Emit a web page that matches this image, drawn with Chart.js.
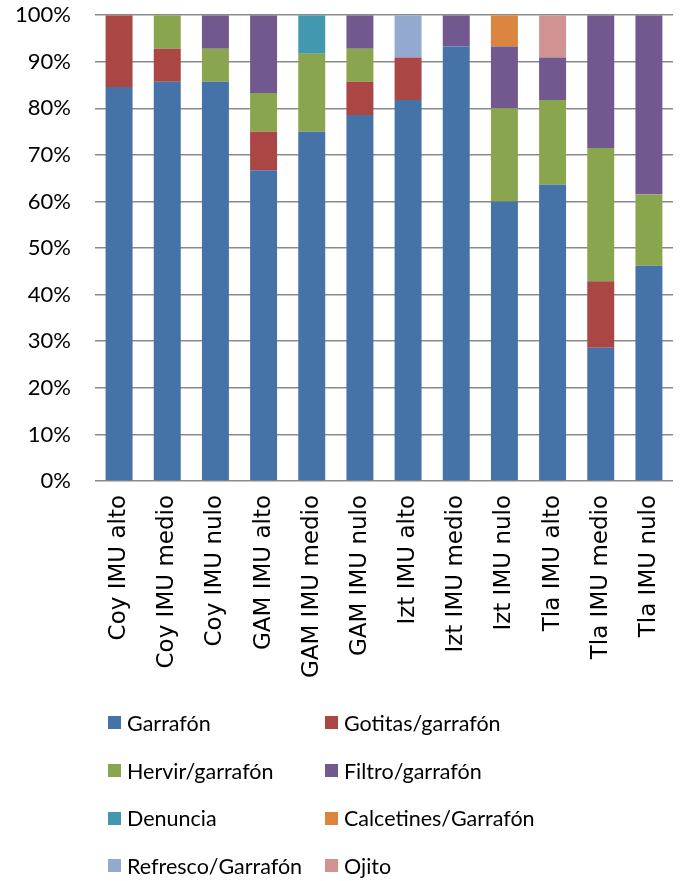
<!DOCTYPE html>
<html>
<head>
<meta charset="utf-8">
<script src="https://cdn.jsdelivr.net/npm/chart.js@4.4.1/dist/chart.umd.min.js"></script>
<style>
  body { margin: 0; background: #fff; }
  #wrap { position: relative; width: 683px; height: 881px; overflow: hidden; }
  #chartBox { position: absolute; left: 0; top: -22px; width: 683px; height: 722px; }
  #leyenda { position: absolute; left: 108px; top: 699px; display: grid; grid-template-columns: 217px 300px; row-gap: 0; }
  .item { display: flex; align-items: center; height: 47.7px; font-family: Lato, sans-serif; font-size: 21.5px; color: #000; }
  .caja { width: 13px; height: 13px; margin-right: 6px; flex: none; }
</style>
</head>
<body>
<div id="wrap">
  <div id="chartBox"><canvas id="grafico"></canvas></div>
  <div id="leyenda"></div>
</div>
<script>
// categorias (eje x)
const categorias = [
  "Coy IMU alto", "Coy IMU medio", "Coy IMU nulo",
  "GAM IMU alto", "GAM IMU medio", "GAM IMU nulo",
  "Izt IMU alto", "Izt IMU medio", "Izt IMU nulo",
  "Tla IMU alto", "Tla IMU medio", "Tla IMU nulo"
];

// porcentajes por serie
const garrafon   = [84.6, 85.7, 85.7, 66.7, 75.0, 78.6, 81.8, 93.3, 60.0, 63.6, 28.6, 46.2];
const gotitas    = [15.4,  7.1,  0,    8.3,  0,    7.1,  9.1,  0,    0,    0,   14.3,  0];
const hervir     = [0,     7.2,  7.1,  8.3, 16.7,  7.1,  0,    0,   20.0, 18.2, 28.6, 15.3];
const filtro     = [0,     0,    7.2, 16.7,  0,    7.2,  0,    6.7, 13.3,  9.1, 28.5, 38.5];
const denuncia   = [0,     0,    0,    0,    8.3,  0,    0,    0,    0,    0,    0,    0];
const calcetines = [0,     0,    0,    0,    0,    0,    0,    0,    6.7,  0,    0,    0];
const refresco   = [0,     0,    0,    0,    0,    0,    9.1,  0,    0,    0,    0,    0];
const ojito      = [0,     0,    0,    0,    0,    0,    0,    0,    0,    9.1,  0,    0];

const ticksY = [0, 10, 20, 30, 40, 50, 60, 70, 80, 90, 100];

const series = [
  { label: "Garrafón", data: garrafon, color: "#4572A7" },
  { label: "Gotitas/garrafón", data: gotitas, color: "#AA4643" },
  { label: "Hervir/garrafón", data: hervir, color: "#89A54E" },
  { label: "Filtro/garrafón", data: filtro, color: "#71588F" },
  { label: "Denuncia", data: denuncia, color: "#4198AF" },
  { label: "Calcetines/Garrafón", data: calcetines, color: "#DB843D" },
  { label: "Refresco/Garrafón", data: refresco, color: "#93A9CF" },
  { label: "Ojito", data: ojito, color: "#D19392" }
];

const chart = new Chart(document.getElementById("grafico"), {
  type: "bar",
  data: {
    labels: categorias,
    datasets: series.map(s => ({
      label: s.label,
      data: s.data,
      backgroundColor: s.color,
      borderWidth: 0,
      barPercentage: 0.56,
      categoryPercentage: 1
    }))
  },
  options: {
    responsive: true,
    maintainAspectRatio: false,
    animation: false,
    layout: { padding: { top: 0, right: 10, left: 0, bottom: 0 } },
    plugins: { legend: { display: false }, tooltip: { enabled: false } },
    scales: {
      x: {
        stacked: true,
        grid: { display: false },
        border: { display: false },
        ticks: {
          minRotation: 90, maxRotation: 90, autoSkip: false, padding: 6,
          color: "#000",
          font: { family: "DejaVu Sans", size: 23 }
        },
        afterFit: ax => { ax.height = 219; }
      },
      y: {
        stacked: true,
        min: 0, max: 100,
        afterBuildTicks: ax => { ax.ticks = ticksY.map(v => ({ value: v })); },
        grid: { color: "#8a8a8a", lineWidth: 1.6, drawTicks: false },
        border: { display: false },
        ticks: {
          padding: 24, color: "#000",
          font: { family: "Lato", size: 22 },
          callback: v => v + "%"
        },
        afterFit: ax => { ax.width = 95; }
      }
    }
  }
});

// leyenda en dos columnas
const leyenda = document.getElementById("leyenda");
leyenda.innerHTML = series.map(s =>
  `<div class="item"><span class="caja" style="background:${s.color}"></span>${s.label}</div>`
).join("");
</script>
</body>
</html>
